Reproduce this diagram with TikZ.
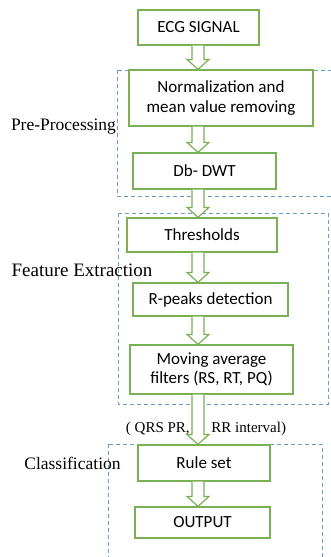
\documentclass[tikz,border=0pt]{standalone}
\usepackage{fontspec}
\setmainfont{Liberation Serif}
\newfontfamily\boxfont{Carlito}
\usepackage{tikz}
\usetikzlibrary{arrows.meta,calc}

\definecolor{boxgreen}{RGB}{122,176,84}
\definecolor{groupblue}{RGB}{110,155,200}

% hollow block arrow from the bottom of #1 to the top of #2, on the spine
\newcommand{\blockarrow}[2]{%
	\draw[greenline,fill=white] let \p1=(#1.south -| spine), \p2=(#2.north -| spine) in
		(\x1-6pt,\y1) -- (\x1-6pt,\y2+10pt) -- (\x1-11pt,\y2+10pt) -- (\x2,\y2)
		-- (\x1+11pt,\y2+10pt) -- (\x1+6pt,\y2+10pt) -- (\x1+6pt,\y1);
}

\begin{document}
\begin{tikzpicture}[x=1pt,y=-1pt,
		greenline/.style={draw=boxgreen,line width=1.2pt},
		procbox/.style={greenline,fill=white,inner sep=2pt,align=center,
			font=\boxfont\fontsize{17}{19.5}\selectfont},
		groupbox/.style={draw=groupblue,line width=0.8pt,dash pattern=on 4pt off 3pt},
		grouplabel/.style={font=\fontsize{17.5}{20}\selectfont,inner sep=0pt}]

			\clip (0,0) rectangle (331,557);
			\fill[white] (0,0) rectangle (331,557);
			\coordinate (spine) at (198,0);

			% dashed groups
			\draw[groupbox] (117,70) rectangle (340,196);
			\draw[groupbox] (118,213) rectangle (328,404);
			\draw[groupbox] (108,444) rectangle (322,565);

			\node[grouplabel] (prelabel) at (63.5,127) {Pre-Processing};
			\node[grouplabel,font=\fontsize{19}{22}\selectfont] (featlabel) at (82,270) {Feature Extraction};
			\node[grouplabel] (classlabel) at (72.5,463) {Classification};
			\node[grouplabel,font=\fontsize{15}{18}\selectfont] (features) at (206,429)
				{( QRS PR,\hspace{18pt} RR interval)};

			\node[procbox,minimum width=121,minimum height=35] (ecg) at (198.5,27.5) {ECG SIGNAL};
			\node[procbox,minimum width=184,minimum height=56] (norm) at (221,98)
				{Normalization and\\mean value removing};
			\node[procbox,minimum width=143,minimum height=36] (dwt) at (204.5,171) {Db- DWT};
			\node[procbox,minimum width=150,minimum height=34] (thr) at (202,235) {Thresholds};
			\node[procbox,minimum width=155,minimum height=33] (rpeaks) at (210.5,299.5) {R-peaks detection};
			\node[procbox,minimum width=163,minimum height=49] (mavg) at (211.5,369.5)
				{Moving average\\filters (RS, RT, PQ)};
			\node[procbox,minimum width=132,minimum height=36] (rules) at (204,463) {Rule set};
			\node[procbox,minimum width=135,minimum height=31] (output) at (202.5,522.5) {OUTPUT};

			\blockarrow{ecg}{norm}
			\blockarrow{norm}{dwt}
			\blockarrow{dwt}{thr}
			\blockarrow{thr}{rpeaks}
			\blockarrow{rpeaks}{mavg}
			\blockarrow{mavg}{rules}
			\blockarrow{rules}{output}

		\end{tikzpicture}
\end{document}
